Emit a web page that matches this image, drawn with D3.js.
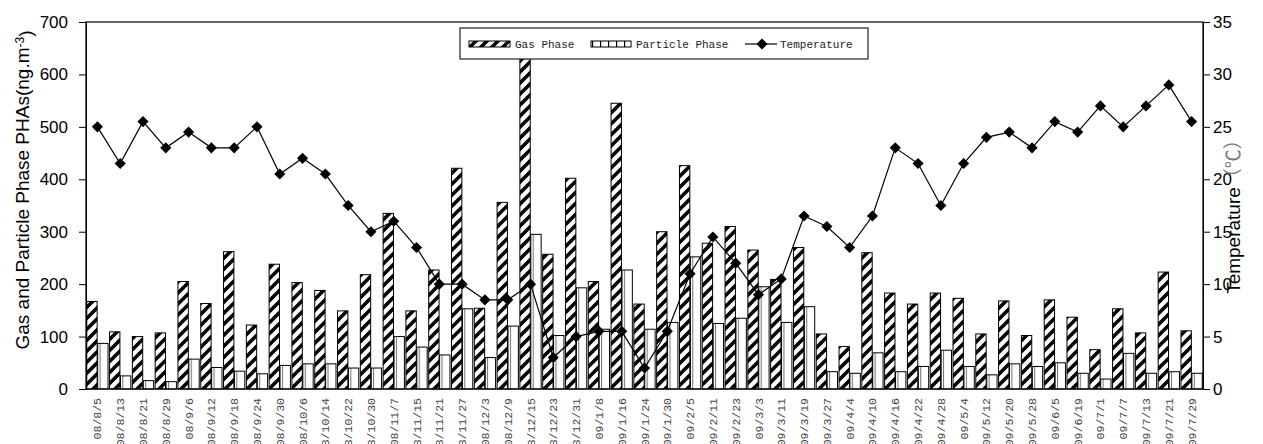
<!DOCTYPE html>
<meta charset="utf-8">
<style>
  body { margin: 0; background: #fff; }
  svg { display: block; }
  .axis text { font: 17px "Liberation Sans", Arial, sans-serif; fill: #000; }
  .axis path, .axis line { stroke: #000; }
  .xlab { font: 11.5px "Liberation Mono", monospace; fill: #444; }
  .legendText { font: 11px "Liberation Mono", monospace; fill: #222; }
  .title { font: 19px "Liberation Sans", Arial, sans-serif; fill: #000; }
</style>
<svg width="1263" height="444"></svg>
<script src="https://d3js.org/d3.v7.min.js"></script>
<script>

var dates = ["08/8/5", "08/8/13", "08/8/21", "08/8/29", "08/9/6", "08/9/12", "08/9/18", "08/9/24", "08/9/30",
  "08/10/6", "08/10/14", "08/10/22", "08/10/30", "08/11/7", "08/11/15", "08/11/21", "08/11/27",
  "08/12/3", "08/12/9", "08/12/15", "08/12/23", "08/12/31", "09/1/8", "09/1/16", "09/1/24", "09/1/30",
  "09/2/5", "09/2/11", "09/2/23", "09/3/3", "09/3/11", "09/3/19", "09/3/27", "09/4/4", "09/4/10",
  "09/4/16", "09/4/22", "09/4/28", "09/5/4", "09/5/12", "09/5/20", "09/5/28", "09/6/5", "09/6/19",
  "09/7/1", "09/7/7", "09/7/13", "09/7/21", "09/7/29"];

var gasPhase = [167, 109, 100, 107, 205, 163, 262, 122, 238, 203, 188, 149, 218, 335, 149, 227, 421,
  154, 356, 630, 257, 402, 205, 545, 162, 300, 426, 278, 310, 265, 209, 270, 105, 81, 260,
  183, 162, 183, 173, 105, 168, 102, 170, 137, 75, 153, 107, 223, 111];

var particlePhase = [87, 25, 16, 14, 57, 41, 34, 29, 45, 48, 48, 40, 40, 100, 80, 65, 153,
  60, 120, 295, 102, 193, 114, 227, 114, 127, 252, 125, 135, 195, 127, 157, 33, 30, 69,
  33, 43, 74, 43, 27, 48, 43, 50, 30, 19, 68, 30, 33, 30];

var temperature = [25, 21.5, 25.5, 23, 24.5, 23, 23, 25, 20.5, 22, 20.5, 17.5, 15, 16, 13.5, 10, 10,
  8.5, 8.5, 10, 3, 5, 5.5, 5.5, 2, 5.5, 11, 14.5, 12, 9, 10.5, 16.5, 15.5, 13.5, 16.5,
  23, 21.5, 17.5, 21.5, 24, 24.5, 23, 25.5, 24.5, 27, 25, 27, 29, 25.5];

var leftTicks = [0, 100, 200, 300, 400, 500, 600, 700];
var rightTicks = [0, 5, 10, 15, 20, 25, 30, 35];
var seriesNames = ["Gas Phase", "Particle Phase", "Temperature"];

var svg = d3.select("svg"),
    margin = {top: 22, right: 60, bottom: 55, left: 86},
    width = +svg.attr("width") - margin.left - margin.right,
    height = +svg.attr("height") - margin.top - margin.bottom,
    g = svg.append("g").attr("transform", "translate(" + margin.left + "," + margin.top + ")");

var x = d3.scaleBand().domain(dates).range([0, width]);
var xSub = d3.scaleBand().domain(["gas", "particle"]).range([0, x.bandwidth()])
    .paddingInner(0.05).paddingOuter(0.07);
var y = d3.scaleLinear().domain([0, 700]).range([height, 0]);
var yT = d3.scaleLinear().domain([0, 35]).range([height, 0]);

// fill patterns
var defs = svg.append("defs");
var gp = defs.append("pattern").attr("id", "gasFill")
    .attr("patternUnits", "userSpaceOnUse").attr("width", 11).attr("height", 11);
gp.append("rect").attr("width", 11).attr("height", 11).attr("fill", "#fff");
gp.append("path").attr("d", "M-3,3L3,-3M0,11L11,0M8,14L14,8")
    .attr("stroke", "#000").attr("stroke-width", 3.6);

var pp = defs.append("pattern").attr("id", "partFill")
    .attr("patternUnits", "objectBoundingBox").attr("patternContentUnits", "objectBoundingBox")
    .attr("width", 1).attr("height", 1);
pp.append("rect").attr("width", 1).attr("height", 1).attr("fill", "#fff");
pp.append("rect").attr("x", 0.2).attr("width", 0.08).attr("height", 1).attr("fill", "#555");

var ppl = defs.append("pattern").attr("id", "partLegend")
    .attr("patternUnits", "userSpaceOnUse").attr("width", 8).attr("height", 8);
ppl.append("rect").attr("width", 8).attr("height", 8).attr("fill", "#fff");
ppl.append("rect").attr("x", 0).attr("width", 1.2).attr("height", 8).attr("fill", "#000");

// bars
g.selectAll(".part").data(dates).enter().append("rect")
    .attr("class", "part")
    .attr("x", function(d) { return x(d) + xSub("particle"); })
    .attr("y", function(d, i) { return y(particlePhase[i]); })
    .attr("width", xSub.bandwidth())
    .attr("height", function(d, i) { return height - y(particlePhase[i]); })
    .attr("fill", "url(#partFill)")
    .attr("stroke", "#000")
    .attr("stroke-width", 1);

g.selectAll(".gas").data(dates).enter().append("rect")
    .attr("class", "gas")
    .attr("x", function(d) { return x(d) + xSub("gas"); })
    .attr("y", function(d, i) { return y(gasPhase[i]); })
    .attr("width", xSub.bandwidth())
    .attr("height", function(d, i) { return height - y(gasPhase[i]); })
    .attr("fill", "url(#gasFill)")
    .attr("stroke", "#000")
    .attr("stroke-width", 1);

// temperature line
var cx = function(d) { return x(d) + x.bandwidth() / 2; };
var line = d3.line()
    .x(function(d, i) { return cx(dates[i]); })
    .y(function(d) { return yT(d); });

g.append("path")
    .datum(temperature)
    .attr("fill", "none")
    .attr("stroke", "#000")
    .attr("stroke-width", 1.2)
    .attr("d", line);

var diamond = d3.symbol().type(d3.symbolSquare).size(62);
g.selectAll(".mark").data(temperature).enter().append("path")
    .attr("class", "mark")
    .attr("d", diamond)
    .attr("transform", function(d, i) {
      return "translate(" + cx(dates[i]) + "," + yT(d) + ") rotate(45)";
    })
    .attr("fill", "#000");

// frame + axes
g.append("rect")
    .attr("width", width).attr("height", height)
    .attr("fill", "none").attr("stroke", "#000").attr("stroke-width", 1.2);

g.append("g").attr("class", "axis")
    .call(d3.axisLeft(y).tickValues(leftTicks).tickSize(7).tickSizeOuter(0).tickPadding(11));

g.append("g").attr("class", "axis")
    .attr("transform", "translate(" + width + ",0)")
    .call(d3.axisRight(yT).tickValues(rightTicks).tickSize(7).tickSizeOuter(0).tickPadding(3));

// rotated date labels (the reference cuts them at the bottom edge too)
g.selectAll(".xlab").data(dates).enter().append("text")
    .attr("class", "xlab")
    .attr("transform", function(d) { return "translate(" + cx(d) + "," + (height + 9) + ") rotate(-90)"; })
    .attr("dy", "0.35em")
    .attr("text-anchor", "end")
    .text(function(d) { return d; });

// axis titles
var lt = svg.append("text")
    .attr("class", "title")
    .attr("transform", "translate(29,190) rotate(-90)")
    .attr("text-anchor", "middle");
lt.append("tspan").text("Gas and Particle Phase PHAs(ng.m");
lt.append("tspan").attr("dy", "-0.45em").style("font-size", "12px").text("-3");
lt.append("tspan").attr("dy", "0.45em").text(")");

var rt = svg.append("text")
    .attr("class", "title")
    .attr("transform", "translate(1240,212) rotate(-90)")
    .attr("text-anchor", "middle");
rt.append("tspan").text("Temperature");
rt.append("tspan").style("font-family", "'Noto Sans CJK SC'").style("fill", "#777").text("（℃）");

// legend
var legend = svg.append("g").attr("class", "legend");
legend.append("rect")
    .attr("x", 460).attr("y", 28).attr("width", 408).attr("height", 31)
    .attr("fill", "#fff").attr("stroke", "#222").attr("stroke-width", 1.2);

legend.append("rect").attr("x", 469).attr("y", 41).attr("width", 41).attr("height", 6)
    .attr("fill", "url(#gasFill)").attr("stroke", "#000");
legend.append("text").attr("class", "legendText").attr("x", 515).attr("y", 44).attr("dy", "0.35em")
    .text(seriesNames[0]);

legend.append("rect").attr("x", 591).attr("y", 41).attr("width", 40).attr("height", 6)
    .attr("fill", "url(#partLegend)").attr("stroke", "#000");
legend.append("text").attr("class", "legendText").attr("x", 636).attr("y", 44).attr("dy", "0.35em")
    .text(seriesNames[1]);

legend.append("line").attr("x1", 745).attr("x2", 777).attr("y1", 44).attr("y2", 44)
    .attr("stroke", "#000").attr("stroke-width", 1.2);
legend.append("path").attr("d", diamond)
    .attr("transform", "translate(762,44) rotate(45)").attr("fill", "#000");
legend.append("text").attr("class", "legendText").attr("x", 780).attr("y", 44).attr("dy", "0.35em")
    .text(seriesNames[2]);

</script>
